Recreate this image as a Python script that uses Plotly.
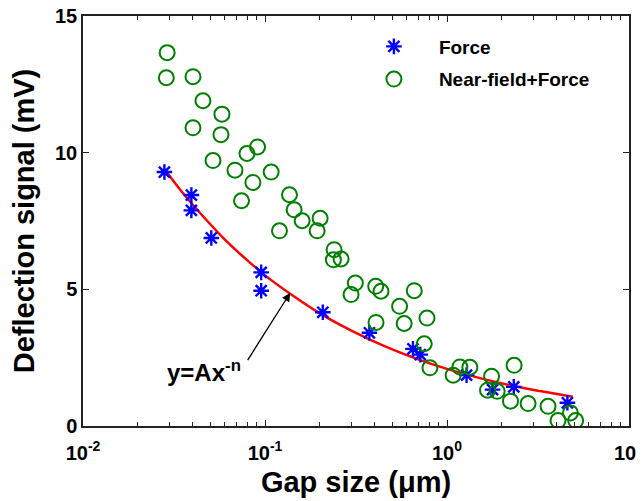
import math
import plotly.graph_objects as go

# Force (blue asterisks)
force_x = [0.0280, 0.0394, 0.0394, 0.0507, 0.0953, 0.0953, 0.2078, 0.3745,
           0.650, 0.713, 1.281, 1.779, 2.328, 4.587]
force_y = [9.29, 8.45, 7.89, 6.88, 5.62, 4.95, 4.16, 3.41,
           2.82, 2.61, 1.86, 1.33, 1.43, 0.85]

# Near-field + Force (green open circles)
nf_x = [0.0290, 0.0287, 0.0402, 0.0456, 0.0580, 0.0402, 0.0573, 0.0910,
        0.0796, 0.0518, 0.0684, 0.1081, 0.0858, 0.0743, 0.1363, 0.1446,
        0.1600, 0.2008, 0.1934, 0.1201, 0.2397, 0.2376, 0.2618, 0.3136,
        0.2971, 0.4058, 0.4339, 0.6608, 0.5489, 0.5816, 0.7761, 0.4074,
        0.7499, 0.8056, 1.0814, 1.177, 1.335, 1.757, 1.670, 1.886,
        2.337, 2.233, 2.789, 3.590, 4.074, 4.764, 5.093]
nf_y = [13.66, 12.74, 12.78, 11.90, 11.41, 10.91, 10.66, 10.21,
        9.97, 9.71, 9.36, 9.29, 8.91, 8.24, 8.46, 7.91,
        7.51, 7.60, 7.14, 7.14, 6.45, 6.08, 6.11, 5.23,
        4.81, 5.11, 4.93, 4.95, 4.38, 3.75, 3.95, 3.79,
        3.01, 2.13, 1.86, 2.16, 2.15, 1.82, 1.31, 1.27,
        2.22, 0.91, 0.82, 0.72, 0.20, 0.48, 0.20]

# Fitted curve y = A x^-n
fit_x = [0.028, 0.035, 0.045, 0.06, 0.08, 0.1, 0.14, 0.2,
         0.3, 0.45, 0.7, 1.0, 1.5, 2.3, 3.3, 4.9]
fit_y = [9.40, 8.56, 7.72, 6.83, 6.06, 5.51, 4.80, 4.12,
         3.48, 2.93, 2.43, 2.09, 1.76, 1.47, 1.27, 1.07]

x_tickvals = [0.01, 0.1, 1, 10]
x_ticktext = ["10<sup>-2</sup>", "10<sup>-1</sup>", "10<sup>0</sup>", "10<sup>1</sup>"]
x_minor_ticks = [m * d for d in (0.01, 0.1, 1) for m in range(2, 10)]
y_tickvals = [0, 5, 10, 15]

FONT = "Liberation Sans, Arial, sans-serif"

fig = go.Figure()
fig.add_trace(go.Scatter(
    x=fit_x, y=fit_y, mode="lines", line=dict(color="#ff0000", width=2.5, shape="spline"),
    showlegend=False, hoverinfo="skip"))
fig.add_trace(go.Scatter(
    x=force_x, y=force_y, mode="markers", name="Force", legendgroup="a",
    marker=dict(symbol="asterisk-open", size=13, color="#0000ff",
                line=dict(color="#0000ff", width=2.4))))
fig.add_trace(go.Scatter(
    x=nf_x, y=nf_y, mode="markers", name="Near-field+Force", legendgroup="b",
    marker=dict(symbol="circle-open", size=15, color="#008000",
                line=dict(color="#008000", width=2))))

# arrow pointing to the fit curve
fig.add_annotation(x=math.log10(0.1375), y=4.87, xref="x", yref="y",
                   text=" ", font=dict(size=1), showarrow=True, arrowhead=2,
                   arrowsize=1.3, arrowwidth=1.3, arrowcolor="black",
                   ax=-43, ay=68, axref="pixel", ayref="pixel", standoff=0,
                   borderpad=0)
fig.add_annotation(x=(165 - 82.5) / 546.9, y=(426.5 - 388) / 410.5,
                   xref="paper", yref="paper", xanchor="left",
                   text="<b>y=Ax<sup>-n</sup></b>", showarrow=False,
                   font=dict(family=FONT, size=24, color="black"))

# the page adds an 8 px offset, so the figure is drawn 8 px smaller
fig.update_layout(
    width=636, height=493,
    margin=dict(l=74.5, r=14.6, t=8, b=74.5, autoexpand=False),
    paper_bgcolor="white", plot_bgcolor="white",
    font=dict(family=FONT, color="black"),
    showlegend=True,
    legend=dict(x=0.487, y=0.972, xanchor="left", yanchor="top",
                bgcolor="rgba(0,0,0,0)", borderwidth=0,
                font=dict(family=FONT, size=19, color="black", weight="bold"),
                tracegroupgap=5, itemwidth=80),
    xaxis=dict(type="log", range=[-2, 1], tickvals=x_tickvals, ticktext=x_ticktext,
               automargin=False, ticklabeloverflow="allow",
               showgrid=False, zeroline=False, showline=True, linecolor="#222",
               linewidth=1.5, mirror="ticks", ticks="inside", ticklen=6,
               tickcolor="#222", tickwidth=1.2,
               minor=dict(tickvals=x_minor_ticks, ticks="inside", ticklen=4,
                          tickcolor="#222", tickwidth=1, showgrid=False),
               tickfont=dict(family=FONT, size=20, color="black", weight="bold"),
               ticklabelstandoff=8,
               title=dict(text="<b>Gap size (\u03bcm)</b>",
                          font=dict(family=FONT, size=29, color="black"), standoff=9)),
    yaxis=dict(range=[0, 15], tickvals=y_tickvals, automargin=False,
               ticklabeloverflow="allow",
               showgrid=False, zeroline=False, showline=True, linecolor="#222",
               linewidth=1.5, mirror="ticks", ticks="inside", ticklen=6,
               tickcolor="#222", tickwidth=1.2,
               tickfont=dict(family=FONT, size=20, color="black", weight="bold"),
               title=dict(text="<b>Deflection signal (mV)</b>",
                          font=dict(family=FONT, size=29, color="black"), standoff=12)),
)

fig.write_html("out.html")
